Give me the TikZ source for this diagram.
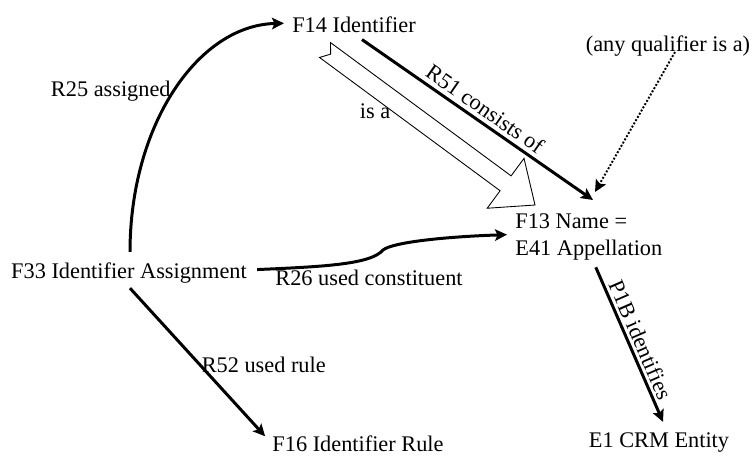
\documentclass[tikz,border=0pt]{standalone}
\usepackage{fontspec}
\setmainfont{Liberation Serif}
\usetikzlibrary{arrows.meta,calc}

\begin{document}
\begin{tikzpicture}[x=0.2mm,y=-0.2mm,>={Stealth[length=2.4mm,width=2.3mm,inset=0.5mm]},
  font=\fontsize{12.7}{15.4}\selectfont,
  cls/.style={inner sep=0pt},
  rel/.style={->,line width=1.7pt},
  qrel/.style={->,line width=1.1pt,densely dotted},
  lbl/.style={inner sep=1.5pt},
  isa/.style={draw=black,line width=.5pt,fill=white,line join=miter}]
 \useasboundingbox (0,0) rectangle (755,455);
 \node[cls,anchor=base] (f14) at (354,32) {F14 Identifier};
 \node[cls,anchor=north west,align=left] (f13) at (515,213) {F13 Name =\\E41 Appellation};
 \node[cls,anchor=base] (f33) at (129,278) {F33 Identifier Assignment};
 \node[cls,anchor=base] (f16) at (358,451) {F16 Identifier Rule};
 \node[cls,anchor=base] (e1) at (659,447) {E1 CRM Entity};
 \node[cls,anchor=base] (qual) at (668,51) {(any qualifier is a)};
 \coordinate (isatail) at (325,50);
 \coordinate (isatip) at (535,205);
 \coordinate (isabase) at ($(isatail)!.86!(isatip)$);
 \coordinate (r26mid) at (383,250);
 \draw[isa] ($(isatail)!1.85mm!90:(isatip)$) -- ($(isabase)!1.85mm!90:(isatip)$)
   -- ($(isabase)!6.2mm!90:(isatip)$) -- (isatip) -- ($(isabase)!6.2mm!-90:(isatip)$)
   -- ($(isabase)!1.85mm!-90:(isatip)$) -- ($(isatail)!1.85mm!-90:(isatip)$)
   -- ($(isatail)!1.4mm!(isatip)$) -- cycle;
 \node[cls] (isalbl) at (375,111) {is a};
 \draw[rel] ($(f33.north)+(1,-10)$) .. controls +(0,-127) and +(-86,2) .. ($(f14.west)+(-8,-1)$)
   node[lbl,pos=.5,left]{R25 assigned};
 \draw[rel] ($(f14.south)+(8,7)$) -- node[lbl,sloped,above,inner sep=2.3pt]{R51 consists of} ($(f13.north west)+(78,-13)$);
 \draw[qrel] ($(qual.base)+(7,1)$) -- ($(f13.north west)+(80,-21)$);
 \draw[rel] ($(f33.east)+(10,-3)$) .. controls +(70,-3) and +(-12,14) .. (r26mid)
   .. controls +(10,-8) and +(-60,2) .. ($(f13.west)+(-8,-2)$);
 \node[cls,anchor=base] (r26) at (369,285) {R26 used constituent};
 \draw[rel] ($(f33.south)+(1,5)$) -- node[cls,pos=.52,right]{R52 used rule} ($(f16.west)+(-7,-7)$);
 \draw[rel] ($(f13.south)+(7,7)$) -- node[lbl,sloped,above]{P1B identifies} ($(e1.north)+(4,-10)$);
\end{tikzpicture}
\end{document}
